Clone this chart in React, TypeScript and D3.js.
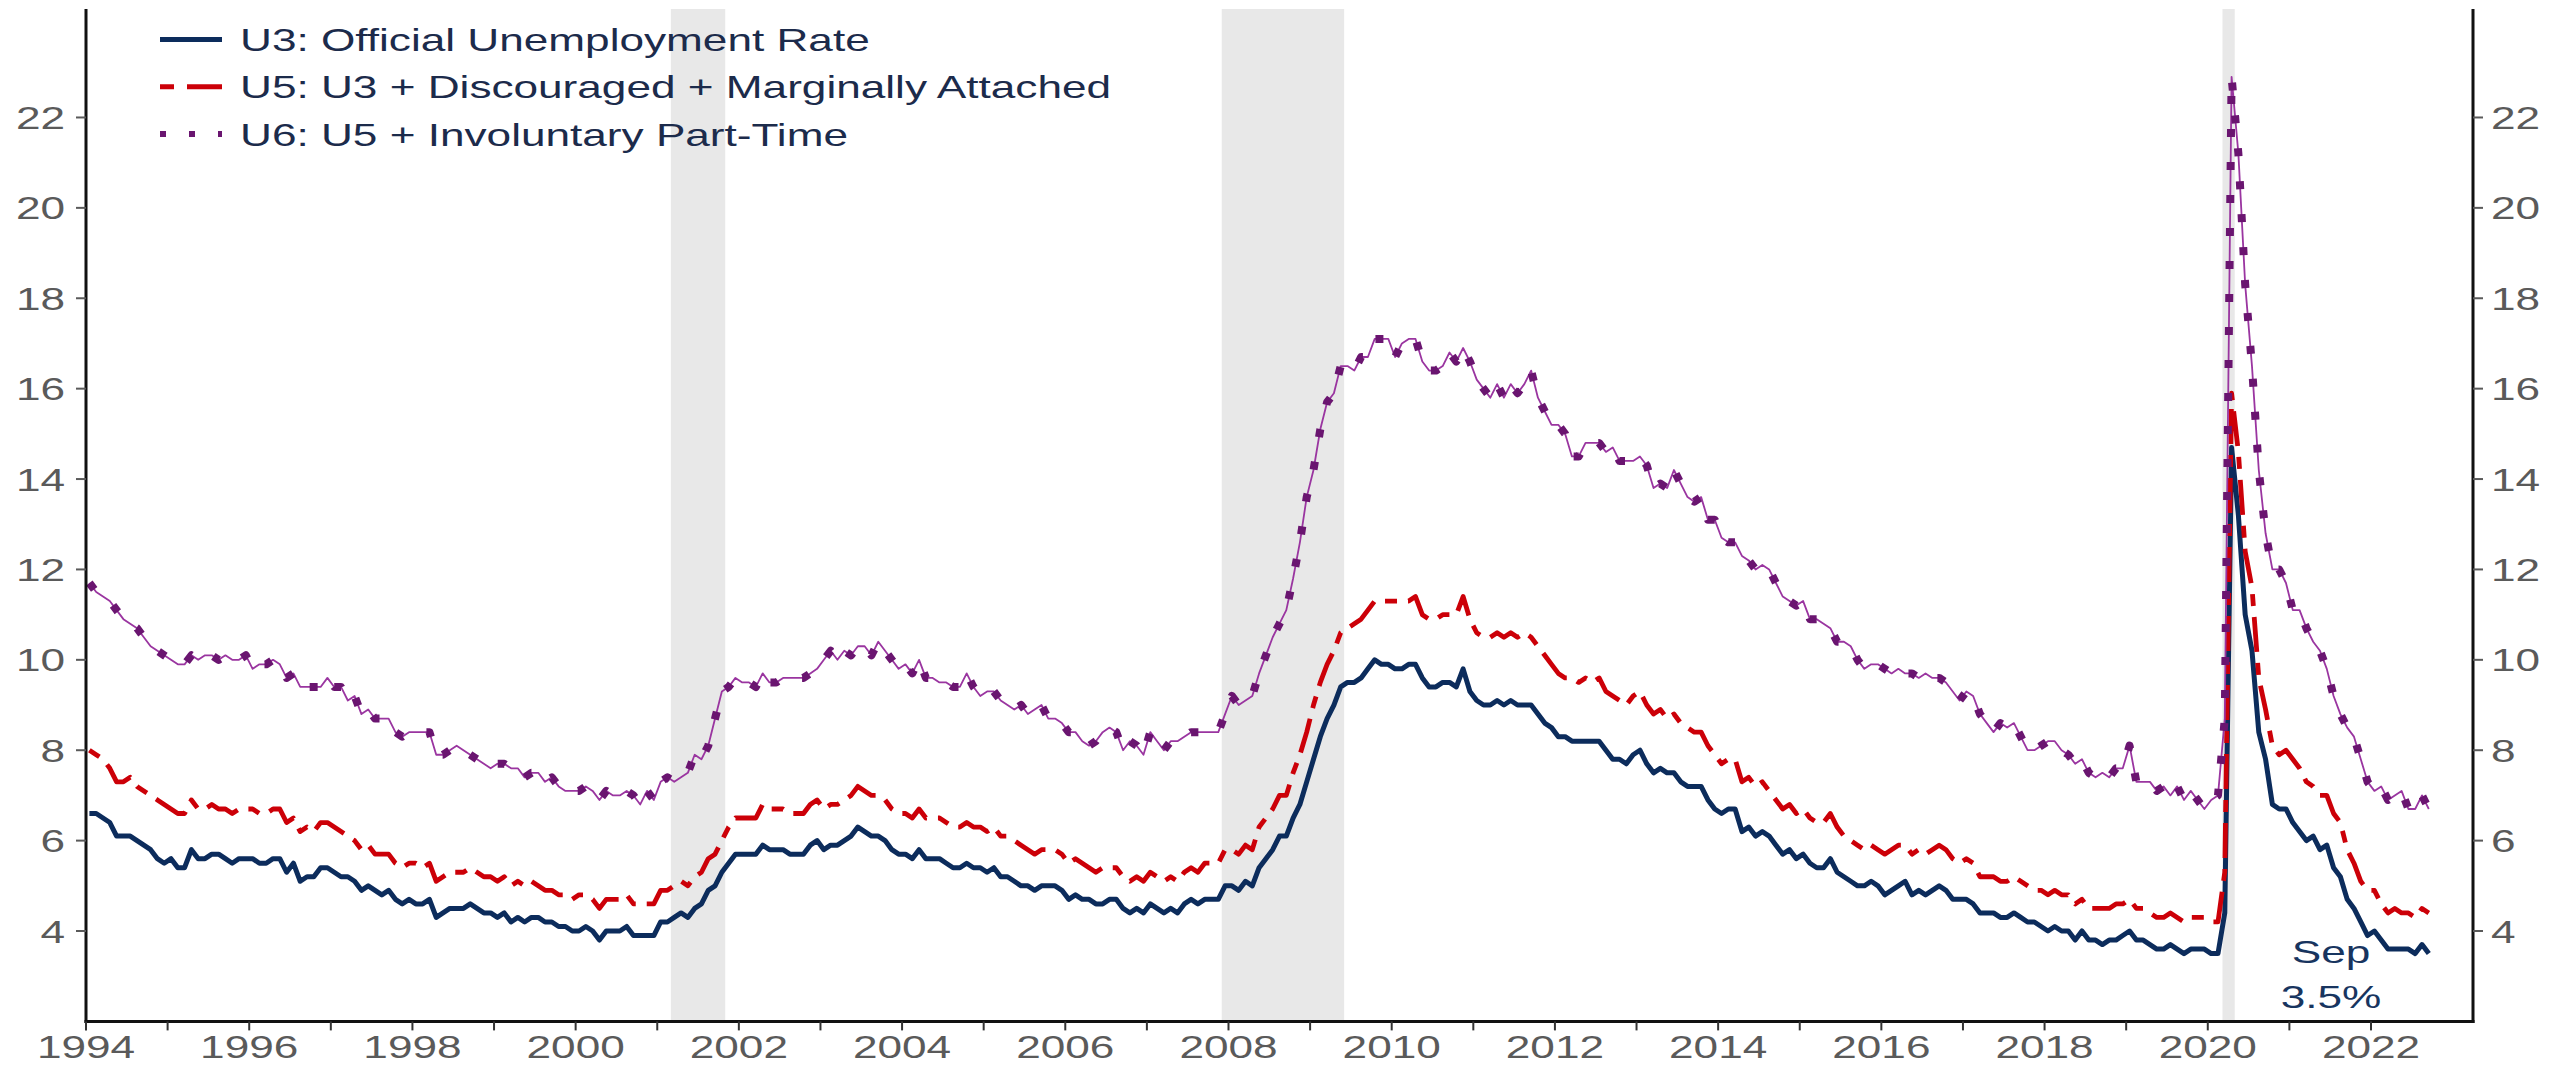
import React, { useEffect } from 'react';
import * as d3 from 'd3';

// ---------------- DATA ----------------
const START_YEAR = 1994;

// U3: Official unemployment rate, monthly from Jan 1994 to Sep 2022
const u3: number[] = [
  6.6, 6.6, 6.5, 6.4, 6.1, 6.1, 6.1, 6.0, 5.9, 5.8, 5.6, 5.5,
  5.6, 5.4, 5.4, 5.8, 5.6, 5.6, 5.7, 5.7, 5.6, 5.5, 5.6, 5.6,
  5.6, 5.5, 5.5, 5.6, 5.6, 5.3, 5.5, 5.1, 5.2, 5.2, 5.4, 5.4,
  5.3, 5.2, 5.2, 5.1, 4.9, 5.0, 4.9, 4.8, 4.9, 4.7, 4.6, 4.7,
  4.6, 4.6, 4.7, 4.3, 4.4, 4.5, 4.5, 4.5, 4.6, 4.5, 4.4, 4.4,
  4.3, 4.4, 4.2, 4.3, 4.2, 4.3, 4.3, 4.2, 4.2, 4.1, 4.1, 4.0,
  4.0, 4.1, 4.0, 3.8, 4.0, 4.0, 4.0, 4.1, 3.9, 3.9, 3.9, 3.9,
  4.2, 4.2, 4.3, 4.4, 4.3, 4.5, 4.6, 4.9, 5.0, 5.3, 5.5, 5.7,
  5.7, 5.7, 5.7, 5.9, 5.8, 5.8, 5.8, 5.7, 5.7, 5.7, 5.9, 6.0,
  5.8, 5.9, 5.9, 6.0, 6.1, 6.3, 6.2, 6.1, 6.1, 6.0, 5.8, 5.7,
  5.7, 5.6, 5.8, 5.6, 5.6, 5.6, 5.5, 5.4, 5.4, 5.5, 5.4, 5.4,
  5.3, 5.4, 5.2, 5.2, 5.1, 5.0, 5.0, 4.9, 5.0, 5.0, 5.0, 4.9,
  4.7, 4.8, 4.7, 4.7, 4.6, 4.6, 4.7, 4.7, 4.5, 4.4, 4.5, 4.4,
  4.6, 4.5, 4.4, 4.5, 4.4, 4.6, 4.7, 4.6, 4.7, 4.7, 4.7, 5.0,
  5.0, 4.9, 5.1, 5.0, 5.4, 5.6, 5.8, 6.1, 6.1, 6.5, 6.8, 7.3,
  7.8, 8.3, 8.7, 9.0, 9.4, 9.5, 9.5, 9.6, 9.8, 10.0, 9.9, 9.9,
  9.8, 9.8, 9.9, 9.9, 9.6, 9.4, 9.4, 9.5, 9.5, 9.4, 9.8, 9.3,
  9.1, 9.0, 9.0, 9.1, 9.0, 9.1, 9.0, 9.0, 9.0, 8.8, 8.6, 8.5,
  8.3, 8.3, 8.2, 8.2, 8.2, 8.2, 8.2, 8.0, 7.8, 7.8, 7.7, 7.9,
  8.0, 7.7, 7.5, 7.6, 7.5, 7.5, 7.3, 7.2, 7.2, 7.2, 6.9, 6.7,
  6.6, 6.7, 6.7, 6.2, 6.3, 6.1, 6.2, 6.1, 5.9, 5.7, 5.8, 5.6,
  5.7, 5.5, 5.4, 5.4, 5.6, 5.3, 5.2, 5.1, 5.0, 5.0, 5.1, 5.0,
  4.8, 4.9, 5.0, 5.1, 4.8, 4.9, 4.8, 4.9, 5.0, 4.9, 4.7, 4.7,
  4.7, 4.6, 4.4, 4.4, 4.4, 4.3, 4.3, 4.4, 4.3, 4.2, 4.2, 4.1,
  4.0, 4.1, 4.0, 4.0, 3.8, 4.0, 3.8, 3.8, 3.7, 3.8, 3.8, 3.9,
  4.0, 3.8, 3.8, 3.7, 3.6, 3.6, 3.7, 3.6, 3.5, 3.6, 3.6, 3.6,
  3.5, 3.5, 4.4, 14.7, 13.2, 11.0, 10.2, 8.4, 7.8, 6.8, 6.7, 6.7,
  6.4, 6.2, 6.0, 6.1, 5.8, 5.9, 5.4, 5.2, 4.7, 4.5, 4.2, 3.9,
  4.0, 3.8, 3.6, 3.6, 3.6, 3.6, 3.5, 3.7, 3.5,
];

// U5: U3 + discouraged + marginally attached
const u5: number[] = [
  8.0, 7.9, 7.8, 7.6, 7.3, 7.3, 7.4, 7.2, 7.1, 7.0, 6.9, 6.8,
  6.7, 6.6, 6.6, 6.9, 6.7, 6.7, 6.8, 6.7, 6.7, 6.6, 6.7, 6.7,
  6.7, 6.6, 6.6, 6.7, 6.7, 6.4, 6.5, 6.2, 6.3, 6.2, 6.4, 6.4,
  6.3, 6.2, 6.1, 6.0, 5.8, 5.9, 5.7, 5.7, 5.7, 5.5, 5.4, 5.5,
  5.5, 5.4, 5.5, 5.1, 5.2, 5.3, 5.3, 5.3, 5.4, 5.3, 5.2, 5.2,
  5.1, 5.2, 5.0, 5.1, 5.0, 5.1, 5.0, 4.9, 4.9, 4.8, 4.8, 4.7,
  4.8, 4.8, 4.7, 4.5, 4.7, 4.7, 4.7, 4.8, 4.6, 4.6, 4.6, 4.6,
  4.9, 4.9, 5.0, 5.1, 5.0, 5.2, 5.3, 5.6, 5.7, 6.0, 6.3, 6.5,
  6.5, 6.5, 6.5, 6.8, 6.7, 6.7, 6.7, 6.6, 6.6, 6.6, 6.8, 6.9,
  6.7, 6.8, 6.8, 6.9, 7.0, 7.2, 7.1, 7.0, 7.0, 6.9, 6.7, 6.6,
  6.6, 6.5, 6.7, 6.5, 6.5, 6.5, 6.4, 6.3, 6.3, 6.4, 6.3, 6.3,
  6.2, 6.3, 6.1, 6.1, 6.0, 5.9, 5.8, 5.7, 5.8, 5.8, 5.8, 5.7,
  5.5, 5.6, 5.5, 5.4, 5.3, 5.4, 5.4, 5.4, 5.2, 5.1, 5.2, 5.1,
  5.3, 5.2, 5.1, 5.2, 5.1, 5.3, 5.4, 5.3, 5.5, 5.5, 5.5, 5.8,
  5.8, 5.7, 5.9, 5.8, 6.3, 6.5, 6.7, 7.0, 7.0, 7.5, 7.9, 8.4,
  9.0, 9.5, 9.9, 10.2, 10.6, 10.7, 10.8, 10.9, 11.1, 11.3, 11.3, 11.3,
  11.3, 11.3, 11.3, 11.4, 11.0, 10.9, 10.9, 11.0, 11.0, 11.0, 11.4, 10.9,
  10.6, 10.5, 10.5, 10.6, 10.5, 10.6, 10.5, 10.6, 10.5, 10.3, 10.1, 9.9,
  9.7, 9.6, 9.6, 9.5, 9.6, 9.5, 9.6, 9.3, 9.2, 9.1, 9.0, 9.2,
  9.3, 9.0, 8.8, 8.9, 8.7, 8.8, 8.6, 8.5, 8.4, 8.4, 8.1, 7.9,
  7.7, 7.8, 7.8, 7.3, 7.4, 7.2, 7.3, 7.1, 6.9, 6.7, 6.8, 6.6,
  6.7, 6.5, 6.4, 6.4, 6.6, 6.3, 6.1, 6.0, 5.9, 5.8, 5.9, 5.8,
  5.7, 5.8, 5.9, 5.9, 5.7, 5.8, 5.7, 5.8, 5.9, 5.8, 5.6, 5.5,
  5.6, 5.5, 5.2, 5.2, 5.2, 5.1, 5.1, 5.2, 5.1, 5.0, 4.9, 4.9,
  4.8, 4.9, 4.8, 4.8, 4.6, 4.7, 4.5, 4.5, 4.5, 4.5, 4.6, 4.6,
  4.7, 4.5, 4.5, 4.4, 4.3, 4.3, 4.4, 4.3, 4.2, 4.3, 4.3, 4.3,
  4.2, 4.2, 5.3, 15.9, 14.6, 12.4, 11.6, 9.6, 8.9, 8.1, 7.9, 8.0,
  7.8, 7.6, 7.3, 7.2, 7.0, 7.0, 6.6, 6.4, 5.8, 5.5, 5.1, 4.9,
  4.9, 4.6, 4.4, 4.5, 4.4, 4.4, 4.3, 4.5, 4.4,
];

// U6: U5 + involuntary part-time
const u6: number[] = [
  11.7, 11.5, 11.4, 11.3, 11.1, 10.9, 10.8, 10.7, 10.5, 10.3, 10.2, 10.1,
  10.0, 9.9, 9.9, 10.1, 10.0, 10.1, 10.1, 10.0, 10.1, 10.0, 10.0, 10.1,
  9.8, 9.9, 9.9, 10.0, 9.9, 9.6, 9.7, 9.4, 9.4, 9.4, 9.4, 9.6,
  9.4, 9.4, 9.1, 9.2, 8.8, 8.9, 8.7, 8.7, 8.7, 8.4, 8.3, 8.4,
  8.4, 8.4, 8.4, 7.9, 7.9, 8.0, 8.1, 8.0, 7.9, 7.8, 7.7, 7.6,
  7.7, 7.7, 7.6, 7.6, 7.4, 7.5, 7.5, 7.3, 7.4, 7.2, 7.1, 7.1,
  7.1, 7.2, 7.1, 6.9, 7.1, 7.0, 7.0, 7.1, 7.0, 6.8, 7.1, 6.9,
  7.3, 7.4, 7.3, 7.4, 7.5, 7.9, 7.8, 8.1, 8.7, 9.3, 9.4, 9.6,
  9.5, 9.5, 9.4, 9.7, 9.5, 9.5, 9.6, 9.6, 9.6, 9.6, 9.7, 9.8,
  10.0, 10.2, 10.0, 10.2, 10.1, 10.3, 10.3, 10.1, 10.4, 10.2, 10.0, 9.8,
  9.9, 9.7, 10.0, 9.6, 9.6, 9.5, 9.5, 9.4, 9.4, 9.7, 9.4, 9.2,
  9.3, 9.3, 9.1, 9.0, 8.9, 9.0, 8.8, 8.9, 9.0, 8.7, 8.7, 8.6,
  8.4, 8.4, 8.2, 8.1, 8.2, 8.4, 8.5, 8.4, 8.0, 8.2, 8.1, 7.9,
  8.4, 8.2, 8.0, 8.2, 8.2, 8.3, 8.4, 8.4, 8.4, 8.4, 8.4, 8.8,
  9.2, 9.0, 9.1, 9.2, 9.7, 10.1, 10.5, 10.8, 11.1, 11.8, 12.6, 13.6,
  14.2, 15.1, 15.7, 15.9, 16.5, 16.5, 16.4, 16.7, 16.7, 17.1, 17.1, 17.1,
  16.7, 17.0, 17.1, 17.1, 16.6, 16.4, 16.4, 16.5, 16.8, 16.6, 16.9, 16.6,
  16.2, 16.0, 15.8, 16.1, 15.8, 16.1, 15.9, 16.1, 16.4, 15.8, 15.5, 15.2,
  15.2, 15.0, 14.5, 14.5, 14.8, 14.8, 14.8, 14.6, 14.7, 14.4, 14.4, 14.4,
  14.5, 14.3, 13.8, 13.9, 13.8, 14.2, 13.9, 13.6, 13.5, 13.6, 13.1, 13.1,
  12.7, 12.6, 12.6, 12.3, 12.2, 12.0, 12.1, 12.0, 11.7, 11.4, 11.3, 11.2,
  11.3, 10.9, 10.9, 10.8, 10.7, 10.4, 10.4, 10.3, 10.0, 9.8, 9.9, 9.9,
  9.8, 9.7, 9.8, 9.7, 9.7, 9.6, 9.7, 9.6, 9.6, 9.5, 9.3, 9.1,
  9.3, 9.2, 8.8, 8.6, 8.4, 8.6, 8.5, 8.6, 8.3, 8.0, 8.0, 8.1,
  8.2, 8.2, 8.0, 7.9, 7.7, 7.8, 7.5, 7.4, 7.5, 7.4, 7.6, 7.6,
  8.1, 7.3, 7.3, 7.3, 7.1, 7.2, 7.0, 7.2, 6.9, 7.1, 6.9, 6.7,
  6.9, 7.0, 8.7, 22.9, 21.2, 18.3, 16.5, 14.2, 12.8, 12.0, 12.0, 11.7,
  11.1, 11.1, 10.7, 10.4, 10.2, 9.8, 9.2, 8.8, 8.5, 8.3, 7.8, 7.3,
  7.1, 7.2, 6.9, 7.0, 7.1, 6.7, 6.7, 7.0, 6.7,
];

// NBER recessions (decimal years)
const recessionStarts = [2001.167, 2007.917, 2020.18];
const recessionEnds = [2001.833, 2009.417, 2020.33];

const yTickValues = [4, 6, 8, 10, 12, 14, 16, 18, 20, 22];
const xTickYears = d3.range(1994, 2023);
const xLabelYears = d3.range(1994, 2023, 2);

const seriesNames = [
  'U3: Official Unemployment Rate',
  'U5: U3 + Discouraged + Marginally Attached',
  'U6: U5 + Involuntary Part-Time',
];
const annotationLines = ['Sep', '3.5%'];

// ---------------- STYLE ----------------
const W = 2552;
const H = 1066;
const FONT = "'Liberation Sans', Arial, Helvetica, sans-serif";
const SX = 1.38;
const NAVY = '#0c2c5c';
const RED = '#cc0008';
const PURPLE_LINE = '#9a35a0';
const PURPLE_DOT = '#6a1570';
const AXIS_GRAY = '#5a5a5a';

const x = d3.scaleLinear().domain([1994, 2023.25]).range([86, 2473]);
const y = d3.scaleLinear().domain([2, 24.4]).range([1021.4, 9]);

const monthX = (i: number) => x(START_YEAR + (i + 0.5) / 12);
const lineGen = d3
  .line<number>()
  .x((_, i) => monthX(i))
  .y((d) => y(d));

function Txt(props: {
  x: number;
  y: number;
  anchor?: string;
  fill?: string;
  size?: number;
  children: React.ReactNode;
}) {
  const { x: tx, y: ty, anchor = 'start', fill = AXIS_GRAY, size = 32, children } = props;
  return (
    <text
      transform={`translate(${tx},${ty}) scale(${SX},1)`}
      textAnchor={anchor as any}
      fill={fill}
      fontSize={size}
      fontFamily={FONT}
    >
      {children}
    </text>
  );
}

export default function App() {
  useEffect(() => {
    document.body.style.margin = '0';
    document.body.style.overflow = 'hidden';
  }, []);

  const plotTop = 9;
  const plotBottom = 1021.4;
  const left = x.range()[0];
  const right = x.range()[1];

  const legendRows = [39.5, 86.8, 134];

  return (
    <svg
      width={W}
      height={H}
      viewBox={`0 0 ${W} ${H}`}
      style={{ position: 'absolute', left: 0, top: 0, background: '#ffffff' }}
    >
      <rect x={0} y={0} width={W} height={H} fill="#ffffff" />

      {/* recession shading */}
      {recessionStarts.map((s, i) => (
        <rect
          key={'rec' + i}
          x={x(s)}
          y={plotTop}
          width={x(recessionEnds[i]) - x(s)}
          height={plotBottom - plotTop}
          fill="#e8e8e8"
        />
      ))}

      {/* series */}
      <path
        d={lineGen(u3) || ''}
        fill="none"
        stroke={NAVY}
        strokeWidth={5}
        strokeLinejoin="round"
      />
      <path
        d={lineGen(u5) || ''}
        fill="none"
        stroke={RED}
        strokeWidth={4.8}
        strokeDasharray="12 11 35 11"
        strokeLinejoin="round"
      />
      <path d={lineGen(u6) || ''} fill="none" stroke={PURPLE_LINE} strokeWidth={1.8} strokeLinejoin="round" />
      <path
        d={lineGen(u6) || ''}
        fill="none"
        stroke={PURPLE_DOT}
        strokeWidth={8}
        strokeDasharray="8 25"
        strokeLinejoin="round"
      />

      {/* legend */}
      <line x1={160} x2={222} y1={legendRows[0]} y2={legendRows[0]} stroke={NAVY} strokeWidth={5} />
      <line
        x1={160}
        x2={222}
        y1={legendRows[1]}
        y2={legendRows[1]}
        stroke={RED}
        strokeWidth={5}
        strokeDasharray="14 13 40"
      />
      <line
        x1={160}
        x2={222}
        y1={legendRows[2]}
        y2={legendRows[2]}
        stroke={PURPLE_DOT}
        strokeWidth={6}
        strokeDasharray="6 23"
      />
      {seriesNames.map((n, i) => (
        <Txt key={n} x={240} y={legendRows[i] + 11.5} fill="#1c2b4b">
          {n}
        </Txt>
      ))}

      {/* annotation */}
      {annotationLines.map((t, i) => (
        <Txt key={t} x={2331} y={963 + i * 44.5} anchor="middle" fill="#18355f">
          {t}
        </Txt>
      ))}

      {/* left axis */}
      <line x1={left} x2={left} y1={plotTop} y2={plotBottom + 1.5} stroke="#111" strokeWidth={3} />
      {yTickValues.map((v) => (
        <g key={'yl' + v}>
          <line x1={left - 10} x2={left} y1={y(v)} y2={y(v)} stroke={AXIS_GRAY} strokeWidth={2} />
          <Txt x={65} y={y(v) + 11.5} anchor="end">
            {v}
          </Txt>
        </g>
      ))}

      {/* right axis */}
      <line x1={right} x2={right} y1={plotTop} y2={plotBottom + 1.5} stroke="#111" strokeWidth={3} />
      {yTickValues.map((v) => (
        <g key={'yr' + v}>
          <line x1={right} x2={right + 10} y1={y(v)} y2={y(v)} stroke={AXIS_GRAY} strokeWidth={2} />
          <Txt x={2491} y={y(v) + 11.5} anchor="start">
            {v}
          </Txt>
        </g>
      ))}

      {/* bottom axis */}
      <line x1={left - 1.5} x2={right + 1.5} y1={plotBottom} y2={plotBottom} stroke="#111" strokeWidth={3} />
      {xTickYears.map((yr) => (
        <line
          key={'xt' + yr}
          x1={x(yr)}
          x2={x(yr)}
          y1={plotBottom}
          y2={plotBottom + 9}
          stroke="#333"
          strokeWidth={2}
        />
      ))}
      {xLabelYears.map((yr) => (
        <Txt key={'xl' + yr} x={x(yr)} y={1058} anchor="middle">
          {yr}
        </Txt>
      ))}
    </svg>
  );
}
